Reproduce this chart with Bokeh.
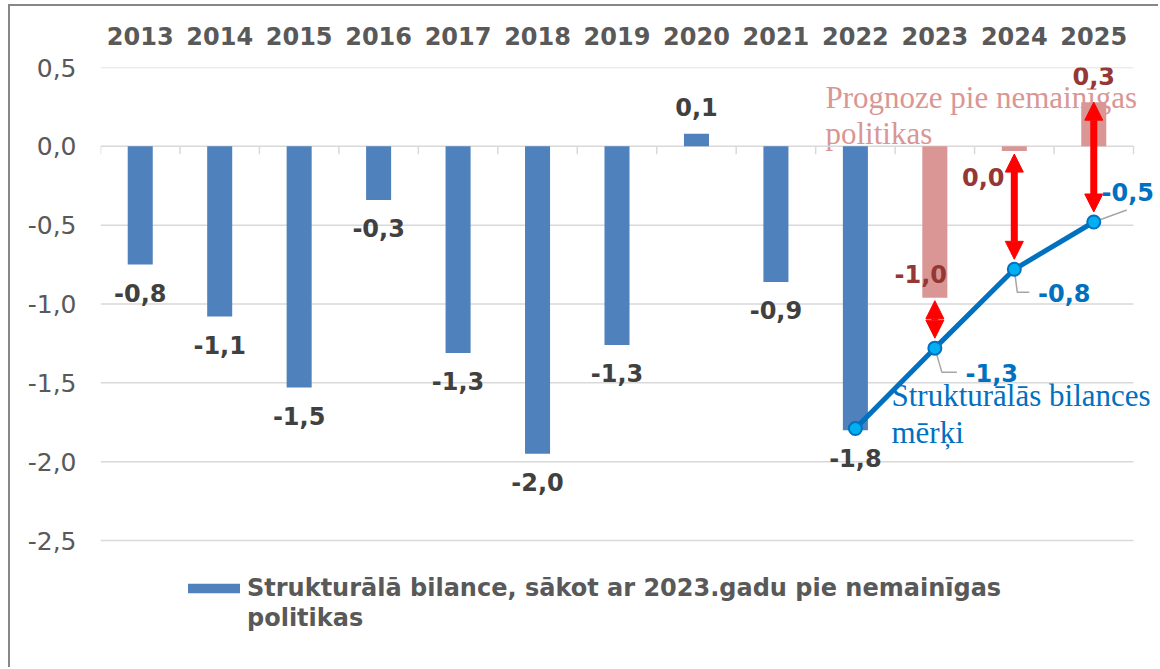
import math
from bokeh.plotting import figure
from bokeh.models import (Range1d, FixedTicker, CustomJSTickFormatter, Arrow, NormalHead,
                          Legend, LegendItem, ColumnDataSource, Label, LabelSet)
from bokeh.core.properties import value
from bokeh.embed import file_html
from bokeh.resources import INLINE

# ---------------- data ----------------
years = ["2013", "2014", "2015", "2016", "2017", "2018", "2019", "2020", "2021", "2022", "2023", "2024", "2025"]
balance = [-0.75, -1.08, -1.53, -0.34, -1.31, -1.95, -1.26, 0.08, -0.86, -1.80, -0.96, -0.03, 0.28]
balance_labels = ["-0,8", "-1,1", "-1,5", "-0,3", "-1,3", "-2,0", "-1,3", "0,1", "-0,9", "-1,8", "-1,0", "0,0", "0,3"]
n_actual = 10  # 2013..2022 actual, 2023..2025 forecast under unchanged policy

target_years = ["2022", "2023", "2024", "2025"]
target_values = [-1.79, -1.28, -0.78, -0.48]
target_labels = ["-1,8", "-1,3", "-0,8", "-0,5"]

y_ticks = [-2.5, -2.0, -1.5, -1.0, -0.5, 0.0, 0.5]
legend_lines = ["Strukturālā bilance, sākot ar 2023.gadu pie nemainīgas", "politikas"]

# ---------------- layout constants (page pixels of the reference) ----------------
W, H = 1150, 663                  # canvas size (page offset 10,6 by css margin+border)
OX, OY = 10, 6
FRAME_L, GRID_R, FRAME_T, YM25_PX = 100, 1133, 67, 540
FRAME_R, FRAME_B = OX + W, 664
ML, MR, MT, MB = FRAME_L - OX, OX + W - FRAME_R, FRAME_T - OY, OY + H - FRAME_B
XMIN, XLAST = -0.5, len(years) - 0.5
DX = (XLAST - XMIN) / (GRID_R - FRAME_L)     # data per pixel (x)
XMAX = XMIN + (FRAME_R - FRAME_L) * DX
YMAX = 0.5
DY = 3.0 / (YM25_PX - FRAME_T)               # data per pixel (y)
YMIN = YMAX - (FRAME_B - FRAME_T) * DY

def px_x(px):
    return XMIN + (px - FRAME_L) * DX

def px_y(py):
    return YMAX - (py - FRAME_T) * DY

BLUE = "#4F81BD"
PINK = "#D99694"
LINE_BLUE = "#0070C0"
TEXT_GRAY = "#595959"
LABEL_DARK = "#404040"
DARK_RED = "#953735"
GRID = "#D9D9D9"
FONT = "DejaVu Sans"
SERIF = "Liberation Serif"

idx = list(range(len(years)))
tidx = [years.index(y) for y in target_years]

p = figure(width=W, height=H, x_range=Range1d(XMIN, XMAX), y_range=Range1d(YMIN, YMAX),
           x_axis_location="above", output_backend="svg", toolbar_location=None,
           min_border_left=ML, min_border_right=MR, min_border_top=MT, min_border_bottom=MB)
p.styles = {"margin-left": "8px", "margin-top": "4px",
            "border-left": "2px solid #878787", "border-top": "2px solid #878787"}
p.outline_line_color = None
p.background_fill_color = "white"
p.border_fill_color = "white"

# axes
p.xaxis.ticker = FixedTicker(ticks=idx)
p.xaxis.formatter = CustomJSTickFormatter(args=dict(years=years), code="return years[Math.round(tick)];")
p.xaxis.axis_line_color = None
p.xaxis.major_tick_line_color = None
p.xaxis.minor_tick_line_color = None
p.xaxis.major_tick_out = 0
p.xaxis.major_tick_in = 0
p.xaxis.major_label_standoff = 23
p.xaxis.major_label_text_font = FONT
p.xaxis.major_label_text_font_style = "bold"
p.xaxis.major_label_text_font_size = "24px"
p.xaxis.major_label_text_color = TEXT_GRAY

p.yaxis.ticker = FixedTicker(ticks=y_ticks)
p.yaxis.formatter = CustomJSTickFormatter(code="return tick.toFixed(1).replace('.', ',');")
p.yaxis.axis_line_color = None
p.yaxis.major_tick_line_color = None
p.yaxis.minor_tick_line_color = None
p.yaxis.major_tick_out = 0
p.yaxis.major_tick_in = 0
p.yaxis.major_label_standoff = 24
p.yaxis.major_label_text_font = FONT
p.yaxis.major_label_text_font_size = "25px"
p.yaxis.major_label_text_color = TEXT_GRAY

# horizontal grid lines limited to the category area
p.xgrid.grid_line_color = None
p.ygrid.grid_line_color = None
p.segment(x0=[XMIN] * len(y_ticks), x1=[XLAST] * len(y_ticks), y0=y_ticks, y1=y_ticks,
          line_color=GRID, line_width=1.5)

# category tick marks on zero line
bounds = [i - 0.5 for i in range(len(years) + 1)]
p.ray(x=bounds, y=[0] * len(bounds), length=8, length_units="screen", angle=-math.pi / 2,
      line_color=GRID, line_width=1.5)

# background annotation texts (behind bars)
for txt, base in [("Prognoze pie nemainīgas", 97), ("politikas", 133)]:
    p.add_layout(Label(x=px_x(825), y=px_y(base), text=txt, level="underlay",
                       text_font=SERIF, text_font_size="31px", text_color=PINK,
                       text_baseline="alphabetic", text_align="left"))

# bars
bars_actual = p.vbar(x=idx[:n_actual], top=balance[:n_actual], width=0.315, bottom=0,
                     fill_color=BLUE, line_color=None)
bars_fc = p.vbar(x=idx[n_actual:], top=balance[n_actual:], width=0.315, bottom=0,
                 fill_color=PINK, line_color=None)
# empty renderer used only to carry the wrapped second legend line
legend_wrap = p.vbar(x=[], top=[], width=0.315, fill_alpha=0, line_alpha=0)

# leader lines for target labels (pixel offsets from point)
leader_px = [None, [(0, 0), (7, 24), (22, 24)], [(0, 0), (3, 23), (15, 23)], [(0, 0), (33, -12)]]
lx, ly = [], []
for k, pts in enumerate(leader_px):
    if pts is None:
        continue
    lx.append([tidx[k] + ox * DX for ox, oy in pts])
    ly.append([target_values[k] - oy * DY for ox, oy in pts])
p.multi_line(xs=lx, ys=ly, line_color="#A6A6A6", line_width=1.5)

# target line
p.line(x=tidx, y=target_values, line_color=LINE_BLUE, line_width=5)
p.scatter(x=tidx, y=target_values, size=13, fill_color="#00B0F0", line_color=LINE_BLUE, line_width=2)

# red double arrows between forecast and target
for k in range(1, len(tidx)):
    i = tidx[k]
    top_v = balance[i] if balance[i] > 0 else balance[i] - 3 * DY
    bot_v = target_values[k] + 10 * DY
    head = dict(size=18, fill_color="#FF0000", line_color="#FF0000")
    p.add_layout(Arrow(x_start=i, y_start=top_v, x_end=i, y_end=bot_v,
                       line_color="#FF0000", line_width=7,
                       start=NormalHead(**head), end=NormalHead(**head)))

# labels for actual bars (LabelSet: positive y_offset = up)
act_src = ColumnDataSource(dict(x=idx[:n_actual], y=balance[:n_actual], t=balance_labels[:n_actual],
                                yo=[-28 if v < 0 else 27 for v in balance[:n_actual]]))
p.add_layout(LabelSet(x="x", y="y", text="t", y_offset="yo", source=act_src,
                      text_font=value(FONT), text_font_style="bold", text_font_size="24px",
                      text_color=LABEL_DARK, text_align="center", text_baseline="middle"))

# labels for forecast bars
fc_src = ColumnDataSource(dict(x=idx[n_actual:], y=balance[n_actual:], t=balance_labels[n_actual:],
                               xo=[-14, -31, 0], yo=[24, -26, 26]))
p.add_layout(LabelSet(x="x", y="y", text="t", x_offset="xo", y_offset="yo", source=fc_src,
                      text_font=value(FONT), text_font_style="bold", text_font_size="24px",
                      text_color=DARK_RED, text_align="center", text_baseline="middle"))

# labels for targets (2022 shown as bar label)
tg_src = ColumnDataSource(dict(x=tidx[1:], y=target_values[1:], t=target_labels[1:],
                               xo=[57, 50, 34], yo=[-25, -24, 30]))
p.add_layout(LabelSet(x="x", y="y", text="t", x_offset="xo", y_offset="yo", source=tg_src,
                      text_font=value(FONT), text_font_style="bold", text_font_size="24px",
                      text_color=LINE_BLUE, text_align="center", text_baseline="middle"))

# foreground annotation text
for txt, base in [("Strukturālās bilances", 395), ("mērķi", 432)]:
    p.add_layout(Label(x=px_x(891), y=px_y(base), text=txt,
                       text_font=SERIF, text_font_size="31px", text_color=LINE_BLUE,
                       text_baseline="alphabetic", text_align="left"))

# legend (inside the extended frame, below the lowest grid line)
legend = Legend(items=[LegendItem(label=legend_lines[0], renderers=[bars_actual]),
                       LegendItem(label=legend_lines[1], renderers=[legend_wrap])],
                location=(81, 32), orientation="vertical",
                glyph_width=65, glyph_height=12, label_standoff=1,
                label_text_font=FONT, label_text_font_style="bold", label_text_font_size="24px",
                label_text_color=TEXT_GRAY, border_line_color=None, background_fill_alpha=0,
                padding=0, margin=0, spacing=2)
p.add_layout(legend, "center")

open("out.html", "w").write(file_html(p, INLINE))
